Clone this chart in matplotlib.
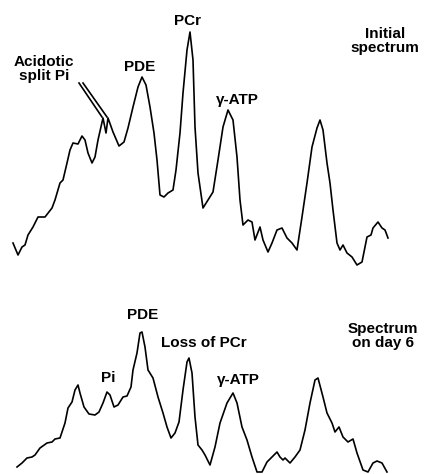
import matplotlib
matplotlib.use("Agg")
import matplotlib.pyplot as plt

# traced spectra, positions (x across, y down from top)
initial_x = [13, 18, 22, 25, 28, 33, 38, 45, 52, 55, 60, 63, 67, 70, 73, 78, 82, 85,
             88, 92, 95, 98, 103, 106, 108, 113, 119, 124, 128, 133, 138, 142, 146,
             150, 154, 157, 160, 164, 168, 173, 176, 180, 183, 187, 190, 193, 195,
             198, 203, 208, 213, 218, 223, 228, 233, 237, 240, 243, 248, 252, 255,
             260, 263, 268, 272, 277, 282, 287, 292, 297, 302, 307, 312, 317, 320,
             323, 327, 330, 333, 337, 340, 343, 347, 352, 357, 362, 367, 371, 373,
             378, 382, 385, 388]
initial_y = [243, 255, 247, 245, 235, 227, 217, 217, 208, 200, 183, 180, 163, 150,
             143, 144, 136, 140, 153, 163, 157, 140, 118, 133, 118, 132, 146, 142,
             128, 107, 87, 77, 85, 107, 133, 160, 195, 197, 193, 190, 170, 133, 93,
             50, 32, 60, 127, 173, 208, 200, 192, 160, 127, 110, 120, 157, 200, 225,
             220, 222, 240, 227, 240, 252, 243, 230, 228, 238, 243, 250, 217, 183,
             147, 128, 120, 130, 163, 183, 210, 243, 250, 245, 253, 257, 265, 262,
             237, 235, 228, 222, 228, 230, 238]

day6_x = [17, 22, 27, 32, 35, 40, 47, 52, 55, 60, 65, 68, 72, 75, 78, 80, 84, 89,
          95, 99, 103, 107, 110, 114, 118, 123, 127, 131, 133, 137, 140, 142, 145,
          148, 153, 158, 163, 167, 171, 175, 179, 183, 187, 189, 192, 195, 198, 202,
          205, 210, 215, 220, 227, 233, 237, 242, 247, 252, 257, 262, 267, 272, 277,
          280, 283, 285, 290, 295, 300, 305, 310, 315, 318, 323, 327, 332, 335, 339,
          343, 348, 353, 357, 363, 368, 373, 377, 382, 387]
day6_y = [467, 463, 458, 457, 455, 448, 443, 442, 439, 438, 423, 408, 402, 390, 385,
          393, 407, 414, 415, 412, 403, 392, 395, 407, 405, 397, 396, 387, 370, 353,
          333, 332, 347, 370, 378, 397, 413, 427, 438, 433, 422, 390, 362, 358, 373,
          417, 445, 450, 455, 465, 447, 423, 403, 393, 403, 427, 440, 457, 472, 472,
          462, 457, 452, 457, 460, 458, 463, 457, 450, 430, 403, 380, 378, 397, 413,
          423, 432, 427, 437, 442, 439, 453, 470, 472, 463, 461, 463, 472]

initial_labels = [("Acidotic\nsplit Pi", 44, 69), ("PDE", 140, 67), ("PCr", 188, 21),
                  ("\u03b3-ATP", 237, 100), ("Initial\nspectrum", 385, 41)]
day6_labels = [("PDE", 143, 315), ("Pi", 108, 378), ("Loss of PCr", 204, 343),
               ("\u03b3-ATP", 238, 380), ("Spectrum\non day 6", 383, 336)]

fig = plt.figure(figsize=(4.25, 4.74), dpi=100)
ax = fig.add_axes([0, 0, 1, 1])
ax.set_xlim(0, 425)
ax.set_ylim(474, 0)
ax.axis("off")

ax.plot(initial_x, initial_y, color="black", lw=1.2, solid_joinstyle="round")
ax.plot(day6_x, day6_y, color="black", lw=1.2, solid_joinstyle="round")

for text, x, y in initial_labels + day6_labels:
    ax.text(x, y, text, ha="center", va="center", fontsize=11,
            family=["Liberation Sans", "DejaVu Sans"], fontweight="bold",
            linespacing=0.92)

# double pointer line to the split Pi peaks
ax.plot([79, 102], [83, 117], color="black", lw=1.2)
ax.plot([83, 107], [83, 117], color="black", lw=1.2)

fig.savefig("out.png", dpi=100)
